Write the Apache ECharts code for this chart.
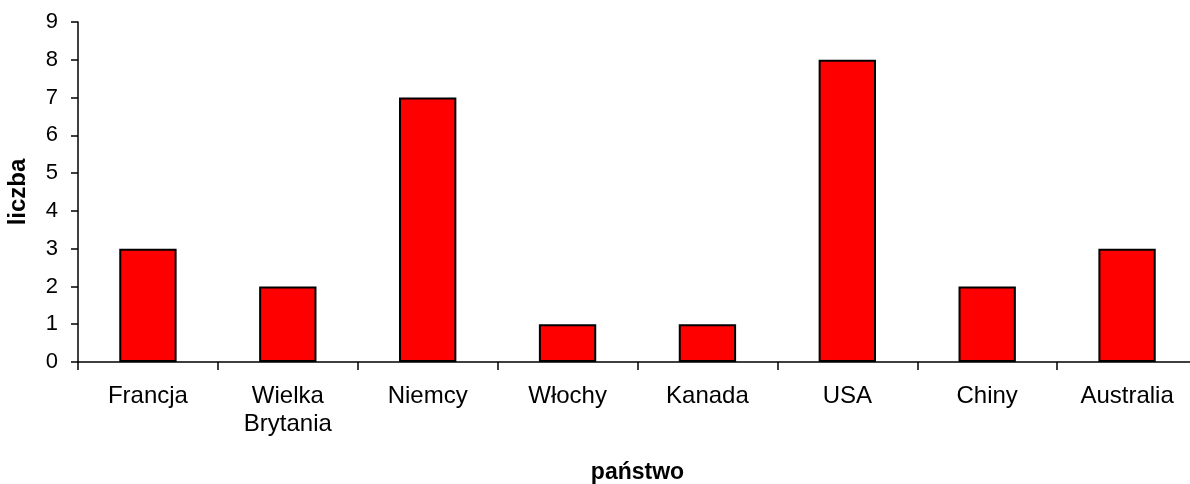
<!DOCTYPE html>
<html>
<head>
<meta charset="utf-8">
<script src="https://cdn.jsdelivr.net/npm/echarts@6/dist/echarts.min.js"></script>
<style>
  html, body { margin: 0; padding: 0; background: #fff; }
  #chart { width: 1190px; height: 484px; }
</style>
</head>
<body>
<div id="chart"></div>
<script>
// dane z wykresu
const countries = ['Francja', 'Wielka\nBrytania', 'Niemcy', 'Włochy', 'Kanada', 'USA', 'Chiny', 'Australia']
const counts = [3, 2, 7, 1, 1, 8, 2, 3]
const yTicks = [0, 1, 2, 3, 4, 5, 6, 7, 8, 9]

const font = 'Liberation Sans, Arial, sans-serif'
const chart = echarts.init(document.getElementById('chart'))

chart.setOption({
  animation: false,
  grid: {
    left: 78,
    top: 22,
    bottom: 122,
    width: 1119,
    outerBoundsMode: 'none',
    containLabel: false
  },
  xAxis: {
    type: 'category',
    data: countries,
    name: 'państwo',
    nameLocation: 'middle',
    nameGap: 99,
    nameTextStyle: { fontFamily: font, fontWeight: 'bold', fontSize: 23, color: '#000' },
    axisLine: { lineStyle: { color: '#000', width: 1.5 } },
    axisTick: { show: true, length: 8, lineStyle: { color: '#000', width: 1.5 } },
    axisLabel: {
      margin: 20,
      fontFamily: font,
      fontSize: 24,
      lineHeight: 28,
      color: '#000',
      interval: 0
    }
  },
  yAxis: {
    type: 'value',
    min: yTicks[0],
    max: yTicks[yTicks.length - 1],
    interval: 1,
    name: 'liczba',
    nameLocation: 'middle',
    nameGap: 48,
    nameTextStyle: { fontFamily: font, fontWeight: 'bold', fontSize: 24, color: '#000' },
    axisLine: { show: true, lineStyle: { color: '#000', width: 1.5 } },
    axisTick: { show: true, length: 7, lineStyle: { color: '#000', width: 1.5 } },
    splitLine: { show: false },
    axisLabel: {
      margin: 20,
      fontFamily: font,
      fontSize: 22,
      color: '#000',
      padding: [3, 0, 0, 0]
    }
  },
  series: [{
    type: 'bar',
    data: counts,
    barWidth: '41%',
    itemStyle: {
      color: '#ff0000',
      borderColor: '#000',
      borderWidth: 2
    }
  }]
})
</script>
</body>
</html>
